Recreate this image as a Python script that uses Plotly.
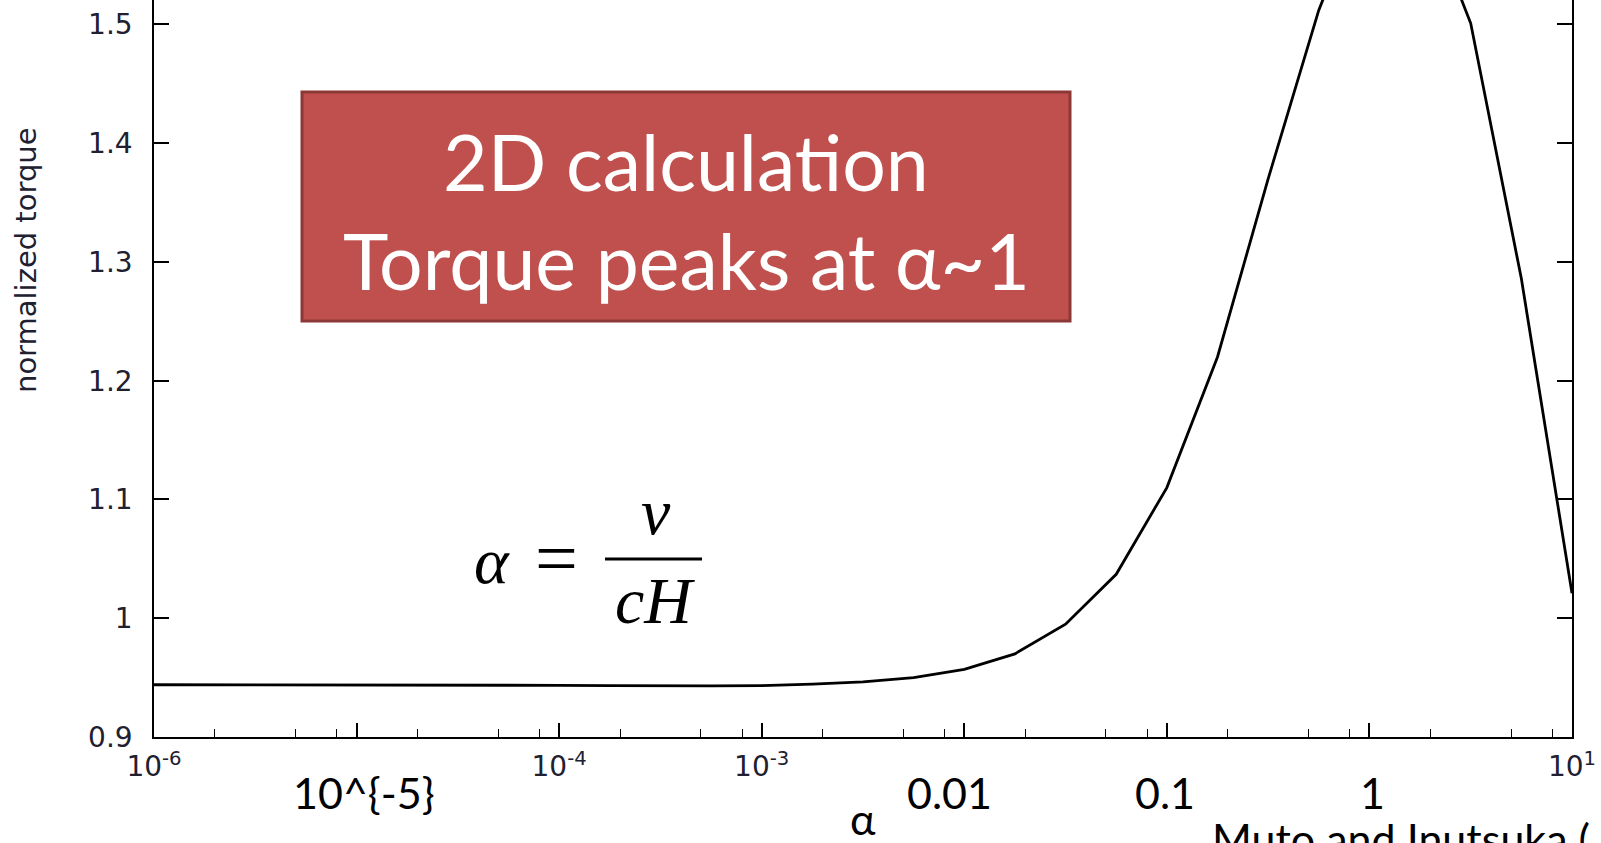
import math
import plotly.graph_objects as go

# ---- data ----
alpha = [1e-6, 1.778e-6, 3.162e-6, 5.623e-6,
         1e-5, 1.778e-5, 3.162e-5, 5.623e-5,
         1e-4, 1.778e-4, 3.162e-4, 5.623e-4,
         1e-3, 1.778e-3, 3.162e-3, 5.623e-3,
         0.01, 0.01778, 0.03162, 0.05623,
         0.1, 0.1778, 0.3162, 0.5623,
         1.0, 1.778, 3.162, 5.623, 10.0]
torque = [0.944, 0.944, 0.944, 0.944,
          0.944, 0.944, 0.9438, 0.9436,
          0.9435, 0.9433, 0.9430, 0.9430,
          0.9433, 0.9445, 0.9465, 0.950,
          0.957, 0.970, 0.995, 1.037,
          1.110, 1.220, 1.370, 1.512,
          1.620, 1.610, 1.501, 1.286, 1.021]

x_major_vals = [1e-6, 1e-5, 1e-4, 1e-3, 1e-2, 1e-1, 1, 10]
x_major_text = ["10<sup>-6</sup>", "", "10<sup>-4</sup>", "10<sup>-3</sup>", "", "", "", "10<sup>1</sup>"]
x_minor_vals = [m * d for d in [1e-6, 1e-5, 1e-4, 1e-3, 1e-2, 1e-1, 1] for m in (2, 5, 8)]
y_tick_vals = [0.9, 1.0, 1.1, 1.2, 1.3, 1.4, 1.5]
y_tick_text = ["0.9", "1", "1.1", "1.2", "1.3", "1.4", "1.5"]

overlay_labels = ["10^{-5}", "0.01", "0.1", "1"]
overlay_x = [1e-5, 1e-2, 1e-1, 1]
overlay_shift = [7, -15, -2, 3]

box_line1 = "2D calculation"
box_line2 = "Torque peaks at α~1"
y_title = "normalized torque"
x_title = "α"
credit = "Muto and Inutsuka ("

W, H = 1601, 843
L, R, T, B = 154, 29, 0, 106
PW, PH = W - L - R, H - T - B


def px(xp):
    return (xp - L) / PW


def py(yp):
    return (H - B - yp) / PH


fig = go.Figure()
fig.add_trace(go.Scatter(x=alpha, y=torque, mode="lines",
                         line=dict(color="black", width=2.8),
                         showlegend=False, hoverinfo="skip"))

tick_font = dict(family="DejaVu Sans", size=28, color="#202030")

fig.update_layout(
    width=W, height=H,
    margin=dict(l=L, r=R, t=T, b=B, pad=0),
    paper_bgcolor="white", plot_bgcolor="white",
    xaxis=dict(type="log", range=[-6, 1], showgrid=False, zeroline=False,
               showline=True, linecolor="black", linewidth=1.6,
               ticks="inside", ticklen=14, tickwidth=1.5, tickcolor="black",
               tickmode="array", tickvals=x_major_vals, ticktext=x_major_text,
               tickfont=tick_font, ticklabelstandoff=4,
               minor=dict(tickmode="array", tickvals=x_minor_vals, ticks="inside",
                          ticklen=8, tickwidth=1.3, tickcolor="black", showgrid=False),
               mirror=False),
    yaxis=dict(range=[0.9, 1.5206], showgrid=False, zeroline=False,
               showline=True, linecolor="black", linewidth=1.6,
               ticks="inside", ticklen=15, tickwidth=1.5, tickcolor="black",
               tickmode="array", tickvals=y_tick_vals, ticktext=y_tick_text,
               tickfont=tick_font, ticklabelstandoff=14,
               mirror="ticks"),
)

# red text box
fig.add_shape(type="rect", xref="paper", yref="paper",
              x0=px(302), x1=px(1070), y0=py(321), y1=py(92),
              fillcolor="#C0504D", line=dict(color="#8C3836", width=3), layer="above")

box_font = dict(family="Lato", size=77, color="white")
fig.add_annotation(xref="paper", yref="paper", x=px(686), y=py(161), text=box_line1,
                   showarrow=False, font=box_font, xanchor="center", yanchor="middle")
fig.add_annotation(xref="paper", yref="paper", x=px(686), y=py(260), text=box_line2,
                   showarrow=False, font=box_font, xanchor="center", yanchor="middle")

# formula alpha = nu / (cH)
f_font = dict(family="Liberation Serif", size=66, color="black", style="italic")
fig.add_annotation(xref="paper", yref="paper", x=px(492), y=py(560), text="α",
                   showarrow=False, font=f_font, xanchor="center", yanchor="middle")
fig.add_annotation(xref="paper", yref="paper", x=px(556), y=py(558), text="=",
                   showarrow=False, font=dict(family="Liberation Serif", size=76, color="black"),
                   xanchor="center", yanchor="middle")
fig.add_annotation(xref="paper", yref="paper", x=px(656), y=py(512), text="ν",
                   showarrow=False, font=f_font, xanchor="center", yanchor="middle")
fig.add_annotation(xref="paper", yref="paper", x=px(655), y=py(600), text="cH",
                   showarrow=False, font=f_font, xanchor="center", yanchor="middle")
fig.add_shape(type="line", xref="paper", yref="paper",
              x0=px(605), x1=px(702), y0=py(559), y1=py(559),
              line=dict(color="black", width=3))

# overlay tick texts
ov_font = dict(family="Lato", size=43, color="black")
for lab, xv, sh in zip(overlay_labels, overlay_x, overlay_shift):
    fig.add_annotation(xref="x", yref="paper", x=math.log10(xv), y=py(792), xshift=sh,
                       text=lab, showarrow=False, font=ov_font,
                       xanchor="center", yanchor="middle")

fig.add_annotation(xref="paper", yref="paper", x=px(863), y=py(818), text=x_title,
                   showarrow=False, font=ov_font, xanchor="center", yanchor="middle")
fig.add_annotation(xref="paper", yref="paper", x=px(1210), y=py(838), text=credit,
                   showarrow=False, font=ov_font, xanchor="left", yanchor="middle")

# y title
fig.add_annotation(xref="paper", yref="paper", x=px(26), y=py(260), text=y_title,
                   showarrow=False, textangle=-90,
                   font=dict(family="DejaVu Sans", size=29, color="#202030"),
                   xanchor="center", yanchor="middle")

fig.write_html("out.html")
